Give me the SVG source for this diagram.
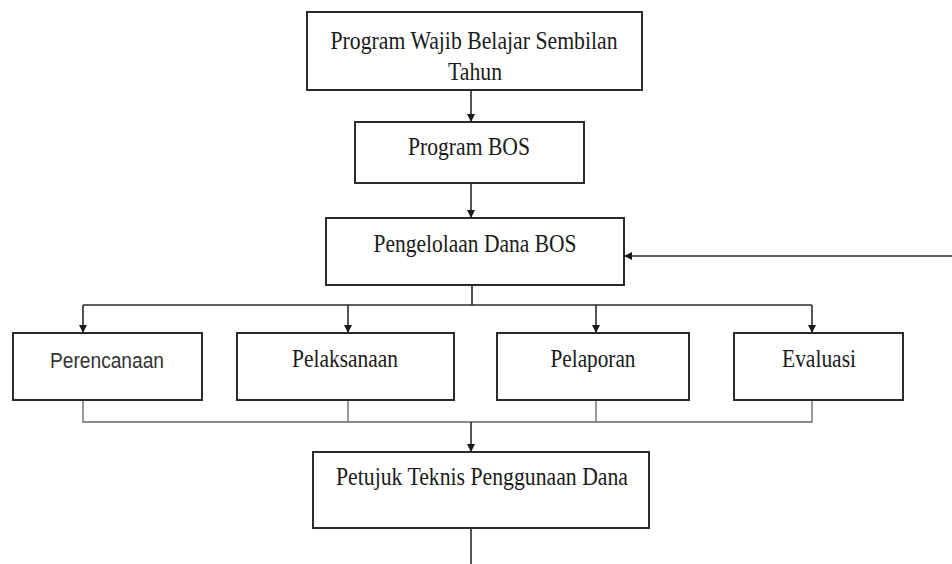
<svg xmlns="http://www.w3.org/2000/svg" width="952" height="564" viewBox="0 0 952 564">
<style>
.box{fill:#ffffff;stroke:#2a2a2a;stroke-width:2}
.t{font-family:"Liberation Serif","Times New Roman",serif;font-size:25px;fill:#1a1a1a;text-anchor:middle}
.s{font-family:"Liberation Sans",Arial,sans-serif;font-size:22px;fill:#333;text-anchor:middle}
.c{fill:none;stroke:#2a2a2a;stroke-width:1.6}
.c2{fill:none;stroke:#666;stroke-width:1.3}
</style>
<defs>
<marker id="ah" viewBox="0 0 10 10" refX="10" refY="5" markerWidth="8" markerHeight="8" markerUnits="userSpaceOnUse" orient="auto">
<path d="M0,0 L10,5 L0,10 z" fill="#1a1a1a"/>
</marker>
</defs>
<rect width="952" height="564" fill="#ffffff"/>
<g id="connectors">
<line class="c" x1="471" y1="90" x2="471" y2="122" marker-end="url(#ah)"/>
<line class="c" x1="471" y1="183" x2="471" y2="218" marker-end="url(#ah)"/>
<line class="c" x1="952" y1="256" x2="624" y2="256" marker-end="url(#ah)"/>
<polyline class="c" points="472,285 472,305"/>
<polyline class="c" points="83,305 812,305"/>
<line class="c" x1="83" y1="305" x2="83" y2="333" marker-end="url(#ah)"/>
<line class="c" x1="348" y1="305" x2="348" y2="333" marker-end="url(#ah)"/>
<line class="c" x1="596" y1="305" x2="596" y2="333" marker-end="url(#ah)"/>
<line class="c" x1="812" y1="305" x2="812" y2="333" marker-end="url(#ah)"/>
<polyline class="c2" points="83,400 83,422 812,422 812,400"/>
<line class="c2" x1="348" y1="400" x2="348" y2="422"/>
<line class="c2" x1="596" y1="400" x2="596" y2="422"/>
<line class="c" x1="471" y1="422" x2="471" y2="452" marker-end="url(#ah)"/>
<line class="c" x1="471" y1="528" x2="471" y2="564"/>
</g>
<g id="node-wajib">
<rect class="box" x="307" y="12" width="335" height="78"/>
<text class="t" x="474" y="49" textLength="287" lengthAdjust="spacingAndGlyphs">Program Wajib Belajar Sembilan</text>
<text class="t" x="475" y="80" textLength="54" lengthAdjust="spacingAndGlyphs">Tahun</text>
</g>
<g id="node-bos">
<rect class="box" x="355" y="122" width="229" height="61"/>
<text class="t" x="469" y="155" textLength="122" lengthAdjust="spacingAndGlyphs">Program BOS</text>
</g>
<g id="node-pengelolaan">
<rect class="box" x="326" y="218" width="298" height="67"/>
<text class="t" x="475" y="252" textLength="203" lengthAdjust="spacingAndGlyphs">Pengelolaan Dana BOS</text>
</g>
<g id="node-perencanaan">
<rect class="box" x="13" y="333" width="189" height="67"/>
<text class="s" x="107" y="368" textLength="114" lengthAdjust="spacingAndGlyphs">Perencanaan</text>
</g>
<g id="node-pelaksanaan">
<rect class="box" x="237" y="333" width="217" height="67"/>
<text class="t" x="345" y="367" textLength="106" lengthAdjust="spacingAndGlyphs">Pelaksanaan</text>
</g>
<g id="node-pelaporan">
<rect class="box" x="497" y="333" width="192" height="67"/>
<text class="t" x="593" y="367" textLength="85" lengthAdjust="spacingAndGlyphs">Pelaporan</text>
</g>
<g id="node-evaluasi">
<rect class="box" x="734" y="333" width="169" height="67"/>
<text class="t" x="819" y="367" textLength="74" lengthAdjust="spacingAndGlyphs">Evaluasi</text>
</g>
<g id="node-petujuk">
<rect class="box" x="313" y="452" width="336" height="76"/>
<text class="t" x="482" y="485" textLength="292" lengthAdjust="spacingAndGlyphs">Petujuk Teknis Penggunaan Dana</text>
</g>
</svg>
